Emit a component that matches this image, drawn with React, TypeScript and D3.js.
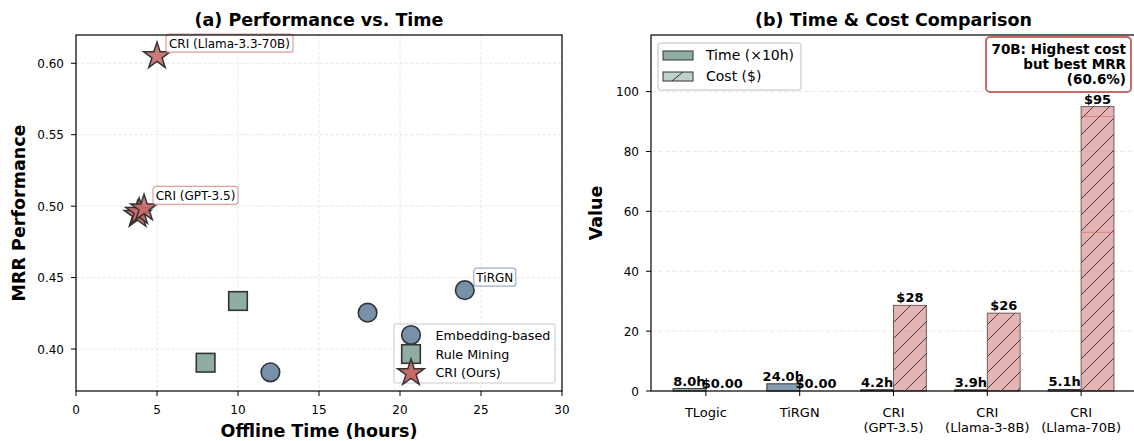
import React from 'react';
import * as d3 from 'd3';

// ---- data (a) ----
const embedX = [12, 18, 24];
const embedY = [0.3837, 0.4254, 0.4412];
const ruleX = [8, 10];
const ruleY = [0.3904, 0.4336];
const criX = [3.8, 3.9, 4.2, 5.0];
const criY = [0.494, 0.496, 0.4985, 0.605];
const scatterXTicks = [0, 5, 10, 15, 20, 25, 30];
const scatterYTicks = [0.4, 0.45, 0.5, 0.55, 0.6];

// ---- data (b) ----
const methods = [['TLogic'], ['TiRGN'], ['CRI', '(GPT-3.5)'], ['CRI', '(Llama-3-8B)'], ['CRI', '(Llama-70B)']];
const timeHours = [8.0, 24.0, 4.2, 3.9, 5.1];
const costUSD = [0, 0, 28.6, 26, 95];
const costLabels = ['$0.00', '$0.00', '$28', '$26', '$95'];
const barYTicks = [0, 20, 40, 60, 80, 100];
const highlightLines = [91.7, 53];

const C_EMB = '#7891aa';
const C_RULE = '#8fada5';
const C_CRI = '#c96a6a';
const EDGE = '#333333';
const FONT = 'DejaVu Sans, Liberation Sans, sans-serif';

const starPath = (R: number) => {
  const pts: string[] = [];
  const r = R * 0.381966;
  for (let i = 0; i < 10; i++) {
    const a = -Math.PI / 2 + (i * Math.PI) / 5;
    const rr = i % 2 === 0 ? R : r;
    pts.push(`${(rr * Math.cos(a)).toFixed(2)},${(rr * Math.sin(a)).toFixed(2)}`);
  }
  return 'M' + pts.join('L') + 'Z';
};

const Scatter = () => {
  const x = d3.scaleLinear().domain([0, 30]).range([76, 562]);
  const y = d3.scaleLinear().domain([0.3706, 0.6198]).range([391, 35]);
  const [x0, x1] = x.range();
  const [y0, y1] = y.range();
  return (
    <g fontFamily={FONT}>
      <text x={(x0 + x1) / 2} y={26} textAnchor="middle" fontSize={17.5} fontWeight="bold">(a) Performance vs. Time</text>
      {scatterXTicks.map((t) => (
        <line key={'gx' + t} x1={x(t)} x2={x(t)} y1={y1} y2={y0} stroke="#e2e2e2" strokeWidth={0.8} strokeDasharray="3.5,1.8" />
      ))}
      {scatterYTicks.map((t) => (
        <line key={'gy' + t} x1={x0} x2={x1} y1={y(t)} y2={y(t)} stroke="#e2e2e2" strokeWidth={0.8} strokeDasharray="3.5,1.8" />
      ))}
      {scatterXTicks.map((t) => (
        <g key={'tx' + t}>
          <line x1={x(t)} x2={x(t)} y1={y0} y2={y0 + 5} stroke="#000" />
          <text x={x(t)} y={y0 + 23} textAnchor="middle" fontSize={12}>{t}</text>
        </g>
      ))}
      {scatterYTicks.map((t) => (
        <g key={'ty' + t}>
          <line x1={x0 - 5} x2={x0} y1={y(t)} y2={y(t)} stroke="#000" />
          <text x={x0 - 12} y={y(t) + 4.5} textAnchor="end" fontSize={12}>{d3.format('.2f')(t)}</text>
        </g>
      ))}
      {embedX.map((v, i) => (
        <circle key={'e' + i} cx={x(v)} cy={y(embedY[i])} r={9.3} fill={C_EMB} stroke={EDGE} strokeWidth={1.6} />
      ))}
      {ruleX.map((v, i) => (
        <rect key={'r' + i} x={x(v) - 9.3} y={y(ruleY[i]) - 9.3} width={18.6} height={18.6} fill={C_RULE} stroke={EDGE} strokeWidth={1.6} />
      ))}
      {criX.map((v, i) => (
        <path key={'c' + i} d={starPath(14)} transform={`translate(${x(v)},${y(criY[i])})`} fill={C_CRI} fillOpacity={0.9} stroke={EDGE} strokeWidth={1.5} />
      ))}
      {/* point labels */}
      {[
        { t: 'CRI (Llama-3.3-70B)', px: 5.0, py: 0.605, c: '#dca0a0', w: 127 },
        { t: 'CRI (GPT-3.5)', px: 4.2, py: 0.4985, c: '#dca0a0', w: 85 },
        { t: 'TiRGN', px: 24, py: 0.4412, c: '#9aaec6', w: 42 },
      ].map((l) => (
        <g key={l.t} transform={`translate(${x(l.px) + 9},${y(l.py) - 22})`}>
          <rect x={0} y={0} width={l.w} height={18} rx={3} fill="#fff" stroke={l.c} strokeWidth={1.2} />
          <text x={l.w / 2} y={13.5} textAnchor="middle" fontSize={12}>{l.t}</text>
        </g>
      ))}
      <rect x={x0} y={y1} width={x1 - x0} height={y0 - y1} fill="none" stroke="#000" strokeWidth={1.2} />
      {/* legend */}
      <g>
        <rect x={394} y={324} width={161} height={59} fill="#fff" fillOpacity={0.85} stroke="#c8c8c8" strokeWidth={1} rx={2} />
        <circle cx={411} cy={335} r={9.3} fill={C_EMB} stroke={EDGE} strokeWidth={1.6} />
        <rect x={401.7} y={344.7} width={18.6} height={18.6} fill={C_RULE} stroke={EDGE} strokeWidth={1.6} />
        <path d={starPath(14)} transform="translate(411,373)" fill={C_CRI} stroke={EDGE} strokeWidth={1.5} />
        <text x={435.5} y={339.5} fontSize={12.7}>Embedding-based</text>
        <text x={435.5} y={358.5} fontSize={12.7}>Rule Mining</text>
        <text x={435.5} y={377} fontSize={12.7}>CRI (Ours)</text>
      </g>
      <text x={(x0 + x1) / 2} y={437} textAnchor="middle" fontSize={17.5} fontWeight="bold">Offline Time (hours)</text>
      <text transform={`translate(25,${(y0 + y1) / 2}) rotate(-90)`} textAnchor="middle" fontSize={17.5} fontWeight="bold">MRR Performance</text>
    </g>
  );
};

const Bars = () => {
  const x = d3.scaleLinear().domain([-0.585, 4.585]).range([651, 1136]);
  const y = d3.scaleLinear().domain([0, 118.9]).range([391, 35]);
  const [x0, x1] = x.range();
  const [y0, y1] = y.range();
  const bw = 0.35;
  const timeColors = [C_RULE, C_EMB, C_CRI, C_CRI, C_CRI];
  return (
    <g fontFamily={FONT}>
      <defs>
        <pattern id="hatch" patternUnits="userSpaceOnUse" width={16} height={16}>
          <path d="M-2,2 L2,-2 M0,16 L16,0 M14,18 L18,14" stroke="#4a3838" strokeWidth={1} />
        </pattern>
      </defs>
      <text x={(x0 + x1) / 2} y={26} textAnchor="middle" fontSize={17.5} fontWeight="bold">(b) Time &amp; Cost Comparison</text>
      {barYTicks.map((t) => (
        <line key={'g' + t} x1={x0} x2={x1} y1={y(t)} y2={y(t)} stroke="#e2e2e2" strokeWidth={0.8} strokeDasharray="4.5,2.5" />
      ))}
      {methods.map((m, i) => {
        const tv = timeHours[i] / 10;
        const cv = costUSD[i];
        return (
          <g key={'b' + i}>
            <rect x={x(i - bw)} y={y(tv)} width={x(i) - x(i - bw)} height={y(0) - y(tv)} fill={timeColors[i]} fillOpacity={0.9} stroke={EDGE} strokeWidth={1} />
            {cv > 0 && (
              <g>
                <rect x={x(i)} y={y(cv)} width={x(i + bw) - x(i)} height={y(0) - y(cv)} fill={C_CRI} fillOpacity={0.5} />
                <rect x={x(i)} y={y(cv)} width={x(i + bw) - x(i)} height={y(0) - y(cv)} fill="url(#hatch)" stroke="#5a4848" strokeOpacity={0.85} strokeWidth={1} />
              </g>
            )}
            <text x={x(i - bw / 2)} y={y(tv) - 3} textAnchor="middle" fontSize={13} fontWeight="bold">{timeHours[i].toFixed(1)}h</text>
            <text x={x(i + bw / 2)} y={y(cv) - 3} textAnchor="middle" fontSize={13} fontWeight="bold">{costLabels[i]}</text>
            <line x1={x(i)} x2={x(i)} y1={y0} y2={y0 + 5} stroke="#000" />
            {m.map((s, k) => (
              <text key={k} x={x(i)} y={y0 + 26 + k * 15} textAnchor="middle" fontSize={13}>{s}</text>
            ))}
          </g>
        );
      })}
      {highlightLines.map((v) => (
        <line key={'h' + v} x1={x(4)} x2={x(4 + bw)} y1={y(v)} y2={y(v)} stroke="#d96060" strokeWidth={0.8} strokeOpacity={0.8} />
      ))}
      {barYTicks.map((t) => (
        <g key={'t' + t}>
          <line x1={x0 - 5} x2={x0} y1={y(t)} y2={y(t)} stroke="#000" />
          <text x={x0 - 12} y={y(t) + 4.5} textAnchor="end" fontSize={12}>{t}</text>
        </g>
      ))}
      <rect x={x0} y={y1} width={x1 - x0} height={y0 - y1} fill="none" stroke="#000" strokeWidth={1.2} />
      {/* legend */}
      <g>
        <rect x={658} y={43} width={143} height={47} fill="#fff" fillOpacity={0.85} stroke="#c0c0c0" strokeWidth={1} rx={2.5} />
        <rect x={663} y={51} width={30} height={9} fill={C_RULE} stroke={EDGE} strokeWidth={1} />
        <rect x={663} y={72} width={30} height={9} fill="#bed1cc" stroke={EDGE} strokeWidth={1} />
        <path d="M672,81 L683,72" stroke={EDGE} strokeWidth={1} />
        <text x={706} y={60} fontSize={14}>Time (×10h)</text>
        <text x={706} y={81} fontSize={14}>Cost ($)</text>
      </g>
      {/* annotation */}
      <g>
        <rect x={986} y={37} width={145} height={55} rx={4} fill="#fff" stroke={C_CRI} strokeWidth={2} />
        <text x={1126} y={53.5} textAnchor="end" fontSize={13.5} fontWeight="bold">70B: Highest cost</text>
        <text x={1126} y={68.5} textAnchor="end" fontSize={13.5} fontWeight="bold">but best MRR</text>
        <text x={1126} y={83.5} textAnchor="end" fontSize={13.5} fontWeight="bold">(60.6%)</text>
      </g>
      <text transform={`translate(602,${(y0 + y1) / 2}) rotate(-90)`} textAnchor="middle" fontSize={17.5} fontWeight="bold">Value</text>
    </g>
  );
};

export default function App() {
  return (
    <svg width={1134} height={441} style={{ position: 'absolute', left: 0, top: 0, display: 'block' }}>
      <rect width={1134} height={441} fill="#fff" />
      <Scatter />
      <Bars />
    </svg>
  );
}
